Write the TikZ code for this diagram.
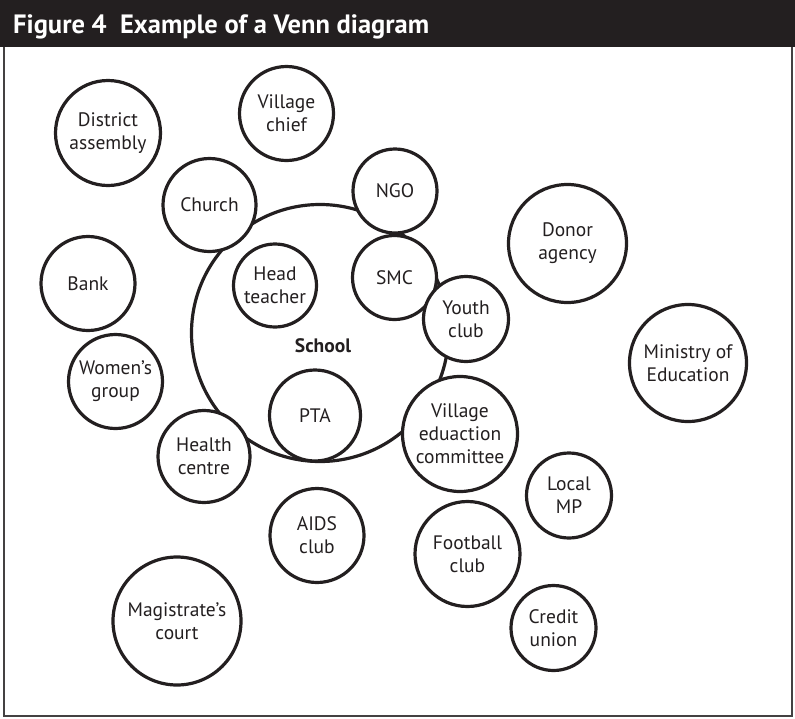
\documentclass[tikz,border=0pt]{standalone}
\usepackage{fontspec}
\setmainfont{PT Sans}
\definecolor{ink}{HTML}{231F20}
\begin{document}
\begin{tikzpicture}[x=1pt,y=-1pt,
  bub/.style={circle, draw=ink, line width=3.2pt, fill=white, inner sep=0pt, align=center, text=ink, font=\fontsize{19.5}{23}\selectfont},
]
\useasboundingbox (0,0) rectangle (795,718);
\fill[ink] (0,0) rectangle (795,47);
\node[anchor=base west, text=white, inner sep=0pt, font=\fontsize{26.5}{30}\selectfont\bfseries] (title) at (13,33) {Figure 4\ \ Example of a Venn diagram};
\draw[ink!85, line width=2.5pt] (4,47) -- (4,716) -- (792,716) -- (792,47);
% school
\node[circle, draw=ink, line width=3.2pt, minimum size=257pt, inner sep=0pt] (school) at (320,333) {};
\node[text=ink, font=\fontsize{19.5}{23}\selectfont\bfseries] (schoollabel) at (323,346) {School};
% bubbles
\node[bub, minimum size=105pt] (district) at (108,133) {District\\assembly};
\node[bub, minimum size=94pt] (chief) at (286.5,113.5) {Village\\chief};
\node[bub, minimum size=93pt] (church) at (209.5,205) {Church};
\node[bub, minimum size=84pt] (ngo) at (395,191) {NGO};
\node[bub, minimum size=94pt] (bank) at (88,283.5) {Bank};
\node[bub, minimum size=84pt] (smc) at (394.5,277.5) {SMC};
\node[bub, minimum size=83pt] (head) at (275,285.5) {Head\\teacher};
\node[bub, minimum size=118pt] (donor) at (567.5,243.5) {Donor\\agency};
\node[bub, minimum size=85pt] (youth) at (466,319) {Youth\\club};
\node[bub, minimum size=117pt] (ministry) at (688,363) {Ministry of\\Education};
\node[bub, minimum size=94pt] (women) at (115.5,381.5) {Women’s\\group};
\node[bub, minimum size=91pt] (pta) at (315,415.5) {PTA};
\node[bub, minimum size=115pt] (vec) at (460,434) {Village\\eduaction\\committee};
\node[bub, minimum size=92pt] (health) at (204,456.5) {Health\\centre};
\node[bub, minimum size=85pt] (localmp) at (569,495.5) {Local\\MP};
\node[bub, minimum size=94pt] (aids) at (317,535.5) {AIDS\\club};
\node[bub, minimum size=105pt] (football) at (467.5,554) {Football\\club};
\node[bub, minimum size=85pt] (credit) at (553.5,628) {Credit\\union};
\node[bub, minimum size=128pt] (magistrate) at (177,621) {Magistrate’s\\court};
\end{tikzpicture}
\end{document}
